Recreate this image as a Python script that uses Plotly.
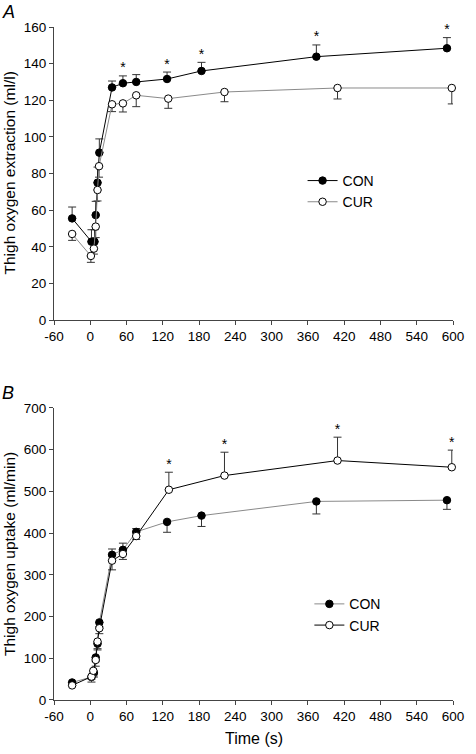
import plotly.graph_objects as go

# ---------------- data ----------------
# Panel A: thigh oxygen extraction (ml/l)
con_a_t = [-30, 2, 7, 9, 12, 15, 36, 54, 76, 127, 184, 374, 590]
con_a_y = [55.5, 42.8, 42.8, 57.3, 75, 91.4, 127, 129.3, 130, 131.6, 136, 143.8, 148.4]
con_a_up = [6.2, 6.5, 6.5, 7.5, 8.5, 7.5, 3.5, 4, 4, 3.8, 4.7, 6.4, 5.8]
con_a_dn = [0, 0, 0, 0, 0, 0, 0, 0, 0, 0, 0, 0, 0]

cur_a_t = [-30, 1, 6, 9, 12, 14.5, 36, 54, 76, 129, 222, 409, 598]
cur_a_y = [47, 35, 39, 51, 71, 84, 117.8, 118.3, 122.7, 120.9, 124.5, 126.7, 126.7]
cur_a_up = [0, 0, 0, 0, 0, 0, 0, 0, 0, 0, 0, 0, 0]
cur_a_dn = [3.5, 3.5, 3, 6, 6, 6, 4, 4.7, 6.2, 5.3, 5.3, 6, 8.7]

a_sig_times = [54, 127, 184, 374, 590]   # CON points marked *

# Panel B: thigh oxygen uptake (ml/min)
con_b_t = [-30, 2, 6, 9, 12, 15, 36, 54, 76, 127, 184, 374, 590]
con_b_y = [42, 55, 65, 102, 135, 186, 348, 360, 403, 427, 442, 476, 479]
con_b_up = [0, 0, 0, 0, 0, 0, 14, 16, 8, 0, 0, 0, 0]
con_b_dn = [0, 5, 10, 10, 12, 10, 0, 0, 0, 25, 26, 30, 22]

cur_b_t = [-30, 2, 5, 9, 12, 15, 36, 54, 76, 130, 222, 409, 598]
cur_b_y = [35, 56, 70, 96, 140, 172, 334, 350, 393, 504, 538, 574, 558]
cur_b_up = [0, 0, 0, 0, 0, 0, 0, 0, 0, 42, 56, 56, 41]
cur_b_dn = [0, 13, 12, 15, 20, 13, 22, 13, 8, 0, 0, 0, 0]

b_sig_times = [130, 222, 409, 598]       # CUR points marked *

x_ticks = [-60, 0, 60, 120, 180, 240, 300, 360, 420, 480, 540, 600]
x_tick_labels = ["-60", "0", "60", "120", "180", "240", "300", "360", "420",
                 "480", "540", "600"]
a_ticks = [0, 20, 40, 60, 80, 100, 120, 140, 160]
b_ticks = [0, 100, 200, 300, 400, 500, 600, 700]

# ---------------- styling ----------------
FONT = "Liberation Sans, Arial, sans-serif"
BLACK = "#000000"
GREY = "#8a8a8a"
AXC = "#444444"


def err(up, dn):
    return dict(type="data", symmetric=False, array=up, arrayminus=dn,
                color="#333333", thickness=1, width=4)


def series(t, y, up, dn, name, filled, linecolor, xa, ya, legend):
    return go.Scatter(
        x=t, y=y, name=name, mode="lines+markers",
        line=dict(color=linecolor, width=1),
        marker=dict(symbol="circle", size=7.5,
                    color=BLACK if filled else "#ffffff",
                    line=dict(color=BLACK, width=1)),
        error_y=err(up, dn), xaxis=xa, yaxis=ya, legend=legend,
        cliponaxis=False,
    )


def stars(t, y, up, sig, xa, ya):
    xs, ys = [], []
    for ti, yi, ui in zip(t, y, up):
        if ti in sig:
            xs.append(ti)
            ys.append(yi + ui)
    return go.Scatter(x=xs, y=ys, mode="text", text=["*"] * len(xs),
                      textposition="top center",
                      textfont=dict(family=FONT, size=14, color=BLACK),
                      showlegend=False, hoverinfo="skip", xaxis=xa, yaxis=ya,
                      cliponaxis=False)


fig = go.Figure()
# Panel A
fig.add_trace(series(con_a_t, con_a_y, con_a_up, con_a_dn, "CON", True, BLACK, "x", "y", "legend"))
fig.add_trace(series(cur_a_t, cur_a_y, cur_a_up, cur_a_dn, "CUR", False, GREY, "x", "y", "legend"))
fig.add_trace(stars(con_a_t, con_a_y, con_a_up, a_sig_times, "x", "y"))
# Panel B
fig.add_trace(series(con_b_t, con_b_y, con_b_up, con_b_dn, "CON", True, GREY, "x2", "y2", "legend2"))
fig.add_trace(series(cur_b_t, cur_b_y, cur_b_up, cur_b_dn, "CUR", False, BLACK, "x2", "y2", "legend2"))
fig.add_trace(stars(cur_b_t, cur_b_y, cur_b_up, b_sig_times, "x2", "y2"))

axis_common = dict(showline=True, linecolor=AXC, linewidth=1, ticks="outside",
                   ticklen=4, tickcolor=AXC, showgrid=False, zeroline=False,
                   tickfont=dict(family=FONT, size=13.5, color=BLACK))

fig.update_layout(
    width=476, height=754,
    margin=dict(l=54, r=13, t=27, b=54),
    paper_bgcolor="white", plot_bgcolor="white",
    font=dict(family=FONT, color=BLACK),
    xaxis=dict(domain=[0, 1], range=[-60, 600], tickvals=x_ticks, ticktext=x_tick_labels,
               anchor="y", **axis_common),
    yaxis=dict(domain=[0.5646, 1], range=[0, 160], tickvals=a_ticks, anchor="x", **axis_common),
    xaxis2=dict(domain=[0, 1], range=[-60, 600], tickvals=x_ticks, ticktext=x_tick_labels,
                anchor="y2", **axis_common),
    yaxis2=dict(domain=[0, 0.4339], range=[0, 700], tickvals=b_ticks, anchor="x2", **axis_common),
    legend=dict(x=0.623, y=0.795, xanchor="left", yanchor="top",
                font=dict(family=FONT, size=14, color=BLACK),
                bgcolor="rgba(0,0,0,0)", tracegroupgap=0),
    legend2=dict(x=0.64, y=0.166, xanchor="left", yanchor="top",
                 font=dict(family=FONT, size=14, color=BLACK),
                 bgcolor="rgba(0,0,0,0)", tracegroupgap=0),
    showlegend=True,
    annotations=[
        dict(text="Thigh oxygen extraction (ml/l)", xref="paper", yref="y domain",
             x=0, y=0.5, xshift=-44, textangle=-90, showarrow=False,
             xanchor="center", yanchor="middle",
             font=dict(family=FONT, size=15.5, color=BLACK)),
        dict(text="Thigh oxygen uptake (ml/min)", xref="paper", yref="y2 domain",
             x=0, y=0.5, xshift=-44, textangle=-90, showarrow=False,
             xanchor="center", yanchor="middle",
             font=dict(family=FONT, size=15.5, color=BLACK)),
        dict(text="Time (s)", xref="x2 domain", yref="paper", x=0.5, y=0,
             yshift=-38, showarrow=False, xanchor="center", yanchor="middle",
             font=dict(family=FONT, size=16, color=BLACK)),
        dict(text="<i>A</i>", xref="paper", yref="paper", x=0, y=1,
             xshift=-54, yshift=27, showarrow=False, xanchor="left", yanchor="top",
             font=dict(family=FONT, size=18, color=BLACK)),
        dict(text="<i>B</i>", xref="paper", yref="y2 domain", x=0, y=1,
             xshift=-54, yshift=27, showarrow=False, xanchor="left", yanchor="top",
             font=dict(family=FONT, size=18, color=BLACK)),
    ],
)

fig.write_html("out.html",
               config={"displayModeBar": False},
               post_script="document.body.style.margin='0px';"
                           "document.body.style.overflow='hidden';")
